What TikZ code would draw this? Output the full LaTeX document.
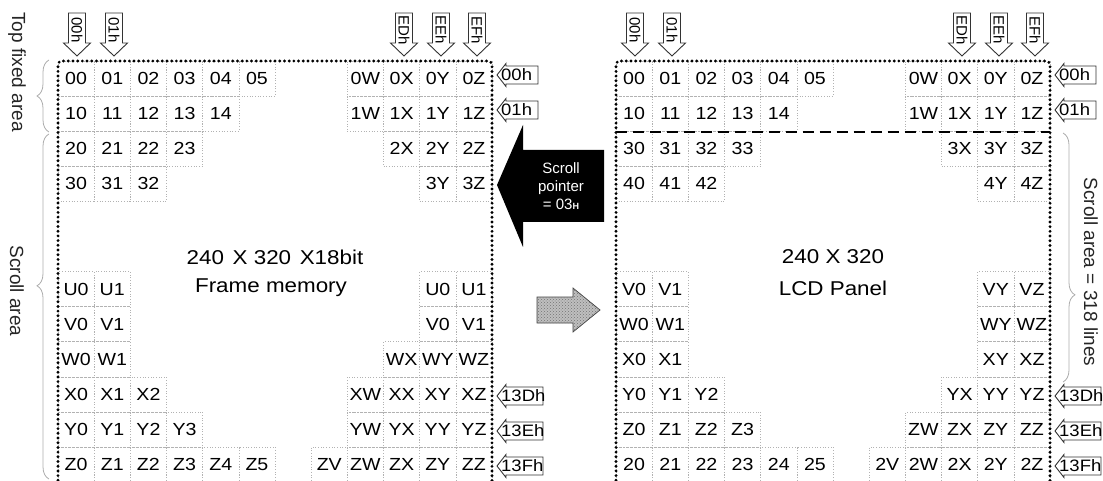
\documentclass[tikz,border=0pt]{standalone}
\usepackage{fontspec}
\setmainfont{Liberation Sans}[FakeStretch=1.12]
\newfontfamily\plainsans{Liberation Sans}
\usetikzlibrary{decorations.pathreplacing,patterns}
\newcommand\cellrow[3]{%
  \foreach \c/\lab in {#3}{%
    \node[cell] (cell-#1-#2-\c) at ({#1+58+36.17*(\c+0.5)},{61+35.1*(#2+0.5)}) {\lab};}}
\newcommand\toparr[3]{%
  \draw[arrbox] ({#1-8.5},13) -- ({#1+8.5},13) -- ({#1+8.5},43) -- ({#1+13.5},43)
     -- (#1,56) -- ({#1-13.5},43) -- ({#1-8.5},43) -- cycle;
  \node[rotate=-90, font=\plainsans\fontsize{15}{15}\selectfont, inner sep=0pt] (#3) at (#1,30) {#2};}
\newcommand\sidearr[5]{%
  \draw[arrbox] (#1,#2) -- ++(9,-11.5) -- ++(0,2.5) -- ++({#3-9},0) -- ++(0,18)
     -- ++({9-#3},0) -- ++(0,2.5) -- cycle;
  \node[anchor=west, font=\fontsize{16.5}{16.5}\selectfont, inner sep=0pt] (#5) at ({#1+4},#2) {#4};}
\begin{document}
\begin{tikzpicture}[x=1pt,y=-1pt,
  cell/.style={draw=gray!60, dotted, line width=0.7pt, minimum width=36.17pt,
    minimum height=35.1pt, inner sep=0pt, text=black,
    font=\fontsize{17.5}{17.5}\selectfont},
  border/.style={line width=3.2pt, dash pattern=on 0pt off 4.7pt, line cap=round},
  arrbox/.style={draw=gray!40!black, fill=white, line width=0.9pt, line join=miter},
  bracestyle/.style={draw=gray!65, line width=0.8pt, decorate},
  bigtext/.style={font=\fontsize{20}{20}\selectfont, text=black},
  sidetext/.style={rotate=-90, font=\plainsans\fontsize{19}{19}\selectfont, text=black!85}]
\useasboundingbox (0,0) rectangle (1103,481);
% ---------- left panel: frame memory ----------
\cellrow{0}{0}{0/00,1/01,2/02,3/03,4/04,5/05,8/0W,9/0X,10/0Y,11/0Z}
\cellrow{0}{1}{0/10,1/11,2/12,3/13,4/14,8/1W,9/1X,10/1Y,11/1Z}
\cellrow{0}{2}{0/20,1/21,2/22,3/23,9/2X,10/2Y,11/2Z}
\cellrow{0}{3}{0/30,1/31,2/32,10/3Y,11/3Z}
\cellrow{0}{6}{0/U0,1/U1,10/U0,11/U1}
\cellrow{0}{7}{0/V0,1/V1,10/V0,11/V1}
\cellrow{0}{8}{0/W0,1/W1,9/WX,10/WY,11/WZ}
\cellrow{0}{9}{0/X0,1/X1,2/X2,8/XW,9/XX,10/XY,11/XZ}
\cellrow{0}{10}{0/Y0,1/Y1,2/Y2,3/Y3,8/YW,9/YX,10/YY,11/YZ}
\cellrow{0}{11}{0/Z0,1/Z1,2/Z2,3/Z3,4/Z4,5/Z5,7/ZV,8/ZW,9/ZX,10/ZY,11/ZZ}
% ---------- right panel: LCD ----------
\cellrow{558}{0}{0/00,1/01,2/02,3/03,4/04,5/05,8/0W,9/0X,10/0Y,11/0Z}
\cellrow{558}{1}{0/10,1/11,2/12,3/13,4/14,8/1W,9/1X,10/1Y,11/1Z}
\cellrow{558}{2}{0/30,1/31,2/32,3/33,9/3X,10/3Y,11/3Z}
\cellrow{558}{3}{0/40,1/41,2/42,10/4Y,11/4Z}
\cellrow{558}{6}{0/V0,1/V1,10/VY,11/VZ}
\cellrow{558}{7}{0/W0,1/W1,10/WY,11/WZ}
\cellrow{558}{8}{0/X0,1/X1,10/XY,11/XZ}
\cellrow{558}{9}{0/Y0,1/Y1,2/Y2,9/YX,10/YY,11/YZ}
\cellrow{558}{10}{0/Z0,1/Z1,2/Z2,3/Z3,8/ZW,9/ZX,10/ZY,11/ZZ}
\cellrow{558}{11}{0/20,1/21,2/22,3/23,4/24,5/25,7/2V,8/2W,9/2X,10/2Y,11/2Z}
% ---------- panel borders ----------
\draw[border, rounded corners=4pt] (58,485) -- (58,61) -- (492,61) -- (492,485);
\draw[border, rounded corners=4pt] (616,485) -- (616,61) -- (1050,61) -- (1050,485);
\draw[line width=2pt, dash pattern=on 11pt off 6pt] (cell-558-1-0.south west) -- (cell-558-1-11.south east);
% ---------- centre texts ----------
\node[bigtext] (fm1) at (275,257) {240\hspace{0.12em} X 320\hspace{0.12em} X18bit};
\node[bigtext] (fm2) at (271,288) {Frame memory};
\node[bigtext] (lcd1) at (833,257) {240 X 320};
\node[bigtext] (lcd2) at (833,288) {LCD Panel};
% ---------- column arrows ----------
\toparr{77}{00h}{tl0}
\toparr{114}{01h}{tl1}
\toparr{404}{EDh}{tl2}
\toparr{441}{EEh}{tl3}
\toparr{477}{EFh}{tl4}
\toparr{635}{00h}{tr0}
\toparr{672}{01h}{tr1}
\toparr{962}{EDh}{tr2}
\toparr{999}{EEh}{tr3}
\toparr{1035}{EFh}{tr4}
% ---------- row arrows ----------
\sidearr{497}{75}{41}{00h}{sl0}
\sidearr{497}{110}{41}{01h}{sl1}
\sidearr{497}{396}{46}{13Dh}{sl2}
\sidearr{497}{431}{46}{13Eh}{sl3}
\sidearr{497}{466}{46}{13Fh}{sl4}
\sidearr{1055}{75}{41}{00h}{sr0}
\sidearr{1055}{110}{41}{01h}{sr1}
\sidearr{1055}{396}{46}{13Dh}{sr2}
\sidearr{1055}{431}{46}{13Eh}{sr3}
\sidearr{1055}{466}{46}{13Fh}{sr4}
% ---------- scroll pointer arrow ----------
\fill[black] (497,185) -- (523,125) -- (523,150) -- (604,150) -- (604,222)
  -- (523,222) -- (523,247) -- cycle;
\node[align=center, text=white, font=\plainsans\fontsize{15}{18}\selectfont] (sp) at (561,186)
  {Scroll\\pointer\\= 03\raisebox{-0.5pt}{\fontsize{9}{9}\selectfont\bfseries H}};
% ---------- transfer arrow ----------
\filldraw[fill=gray!50, draw=gray!50!black, line width=0.7pt] (537,297) -- (573,297) -- (573,288)
  -- (600,310) -- (573,332) -- (573,323) -- (537,323) -- cycle;
\fill[pattern=crosshatch dots, pattern color=gray!90!black] (537,297) -- (573,297) -- (573,288)
  -- (600,310) -- (573,332) -- (573,323) -- (537,323) -- cycle;
% ---------- braces and side labels ----------
\draw[bracestyle, decoration={brace, amplitude=12pt}] (49,132) -- (49,60);
\draw[bracestyle, decoration={brace, amplitude=12pt, aspect=0.56}] (49,479) -- (49,134);
\draw[bracestyle, decoration={brace, amplitude=12pt, aspect=0.65}] (1063,133) -- (1063,382);
\node[sidetext] (topfixed) at (17,72) {Top fixed area};
\node[sidetext] (scrollL) at (17,291) {Scroll area};
\node[sidetext] (scrollR) at (1091,272) {Scroll area = 318 lines};
\end{tikzpicture}
\end{document}
